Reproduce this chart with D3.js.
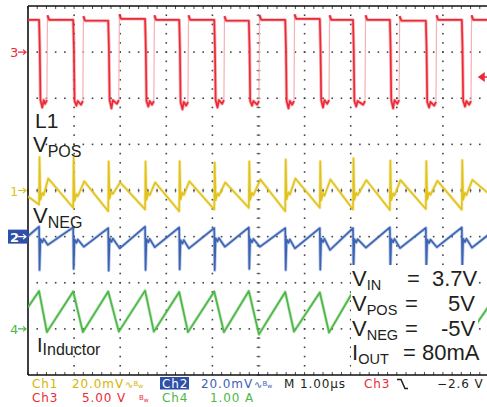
<!DOCTYPE html>
<html><head><meta charset="utf-8">
<script src="https://cdn.jsdelivr.net/npm/d3@7"></script>
<style>body{margin:0;background:#fff}svg{display:block}</style>
</head><body>
<script>
// ---- data (time in µs, 1 µs/div) ----
const fallTimes = [0.24,0.98,1.74,2.54,3.28,4.04,4.79,5.58,6.33,7.05,7.85,8.63,9.41];
const riseTimes = [0.41,1.19,1.97,2.73,3.47,4.25,5.01,5.77,6.53,7.31,8.05,8.85,9.61];
// Ch3 (switch node, V): plateau before each fall (+ final), low level, low dip
const ch3High = [3.5,3.5,3.4,3.6,3.5,3.5,3.4,3.5,3.6,3.5,3.5,3.4,3.5,3.5];
const ch3Low  = [-5.2,-5.3,-5.2,-5.3,-5.4,-5.2,-5.3,-5.3,-5.2,-5.3,-5.2,-5.4,-5.3];
const ch3Dip  = [-6.0,-5.8,-6.1,-5.9,-6.2,-6.0,-5.8,-6.1,-6.0,-5.9,-6.1,-6.0,-5.9];
// Ch1 (VPOS ripple, mV)
const ch1Start = -2.6, ch1End = -1.5;
const ch1Trough = [-6.1,-7.5,-9.0,-8.2,-9.0,-8.2,-7.5,-9.0,-7.5,-8.2,-8.5,-8.0,-8.3];
const ch1Spike  = [14.5,14.3,12.6,12.6,12.7,12.1,12.6,13.4,12.7,14.0,13.0,12.8,13.2];
const ch1Dip    = [-4.0,-4.5,-3.5,-4.0,-3.9,-4.2,-4.0,-3.8,-4.3,-4.0,-4.2,-3.9,-4.0];
const ch1Peak   = [5.2,4.0,3.5,3.5,4.0,3.5,4.8,5.2,4.8,4.5,4.5,4.2,4.6];
// Ch2 (VNEG ripple, mV)
const ch2Start = 0.2, ch2End = 1.0;
const ch2High  = [4.3,4.0,3.7,4.3,4.0,3.7,4.0,3.7,3.7,3.7,4.0,3.8,4.0];
const ch2Spike = [-14.5,-14.0,-14.8,-14.5,-14.2,-14.6,-14.0,-14.5,-14.3,-14.8,-14.2,-14.5,-14.4];
const ch2Mid   = [-1.0,-1.2,-0.8,-1.0,-1.5,-0.6,-1.0,-1.2,-0.9,-1.1,-1.0,-1.3,-0.9];
const ch2Dip   = [-3.6,-4.4,-5.1,-4.6,-5.1,-4.4,-4.4,-5.1,-5.8,-4.8,-5.0,-4.6,-4.8];
// Ch4 (inductor current, A)
const ch4Start = 0.47, ch4End = 0.50;
const ch4Peak   = [0.82,0.81,0.81,0.83,0.80,0.81,0.82,0.80,0.79,0.81,0.80,0.80,0.81];
const ch4Trough = [-0.07,-0.07,-0.06,-0.06,-0.07,-0.07,-0.12,-0.06,-0.08,-0.10,-0.06,-0.07,-0.06];
// labels
const statusLine1 = ["Ch1","20.0mV","Ch2","20.0mV","M 1.00µs","Ch3","\u22122.6 V"];
const statusLine2 = ["Ch3","5.00 V","Ch4","1.00 A"];
const condLabels = [["V","IN","=","3.7V"],["V","POS","=","5V"],["V","NEG","=","-5V"],["I","OUT","=","80mA"]];

// ---- drawing ----
const W=487,H=407;
const svg=d3.select("body").append("svg").attr("width",W).attr("height",H);
const x=d3.scaleLinear().domain([0,10]).range([28,489]);
const yDiv=d3.scaleLinear().domain([-4,4]).range([375,6]);
const y3=d3.scaleLinear().domain([-35,5]).range([375,6]);
const y1=d3.scaleLinear().domain([-80,80]).range([375,6]);
const y2=d3.scaleLinear().domain([-60,100]).range([375,6]);
const y4=d3.scaleLinear().domain([-1,7]).range([375,6]);

const C={red:"#ec2a36",pink:"#f6b0b6",yel:"#e2c31c",blue:"#3b63b4",green:"#4db748",ink:"#231f20"};

svg.append("clipPath").attr("id","scr").append("rect")
  .attr("x",x(0)).attr("y",yDiv(4)).attr("width",W-x(0)).attr("height",yDiv(-4)-yDiv(4));

// graticule
const grid=svg.append("g");
const xm=d3.range(0,51).map(i=>i/5), ym=d3.range(0,41).map(i=>i/5-4);
for(let k=1;k<=9;k++) ym.forEach(m=>{ if(Math.abs(m)<3.99) grid.append("rect")
  .attr("x",x(k)-0.8).attr("y",yDiv(m)-0.8).attr("width",1.6).attr("height",1.6).attr("fill","#444");});
for(let j=-3;j<=3;j++) xm.forEach(m=>{ if(m>0.01&&x(m)<W) grid.append("rect")
  .attr("x",x(m)-0.8).attr("y",yDiv(j)-0.8).attr("width",1.6).attr("height",1.6).attr("fill","#444");});
// centre ticks
ym.forEach(m=>grid.append("line").attr("x1",x(5)-2).attr("x2",x(5)+2).attr("y1",yDiv(m)).attr("y2",yDiv(m)).attr("stroke","#555").attr("stroke-width",0.8));
xm.forEach(m=>{ if(x(m)<W) grid.append("line").attr("x1",x(m)).attr("x2",x(m)).attr("y1",yDiv(0)-2).attr("y2",yDiv(0)+2).attr("stroke","#555").attr("stroke-width",0.8);});
// border ticks
xm.forEach(m=>{ if(x(m)<W){
  grid.append("line").attr("x1",x(m)).attr("x2",x(m)).attr("y1",yDiv(4)).attr("y2",yDiv(4)+3).attr("stroke","#333").attr("stroke-width",0.9);
  grid.append("line").attr("x1",x(m)).attr("x2",x(m)).attr("y1",yDiv(-4)).attr("y2",yDiv(-4)-3).attr("stroke","#333").attr("stroke-width",0.9);}});
grid.append("path").attr("d",`M${x(0)},${yDiv(4)}H${W}M${x(0)},${yDiv(4)}V${yDiv(-4)}M${x(0)},${yDiv(-4)}H${W}`)
  .attr("stroke","#111").attr("stroke-width",1.6).attr("fill","none");

const traces=svg.append("g").attr("clip-path","url(#scr)");
function draw(pts,ys,color,w,op){
  const ln=d3.line().x(d=>x(d[0])).y(d=>ys(d[1]));
  traces.append("path").attr("d",ln(pts)).attr("fill","none").attr("stroke",color)
    .attr("stroke-width",w).attr("stroke-linejoin","round").attr("opacity",op||1);
}

// Ch4 green
{ const p=[[0,ch4Start]];
  fallTimes.forEach((tf,i)=>{p.push([tf,ch4Peak[i]],[riseTimes[i],ch4Trough[i]]);});
  p.push([10,ch4End]);
  draw(p,y4,C.green,3.2,0.35); draw(p,y4,C.green,1.7); }
// Ch2 blue
{ const p=[[0,ch2Start]];
  fallTimes.forEach((tf,i)=>{p.push([tf,ch2High[i]],[tf+0.01,ch2Spike[i]],[tf+0.03,ch2Mid[i]],[tf+0.07,ch2Mid[i]-1.5],[tf+0.1,ch2Mid[i]],[riseTimes[i]+0.02,ch2Dip[i]]);});
  p.push([10,ch2End]);
  draw(p,y2,C.blue,3.2,0.35); draw(p,y2,C.blue,1.6); }
// Ch1 yellow
{ const p=[[0,ch1Start]];
  fallTimes.forEach((tf,i)=>{p.push([tf,ch1Trough[i]],[tf+0.01,ch1Spike[i]],[tf+0.03,ch1Dip[i]],[tf+0.07,ch1Dip[i]+3],[tf+0.1,ch1Dip[i]+2],[riseTimes[i]+0.03,ch1Peak[i]]);});
  p.push([10,ch1End]);
  draw(p,y1,C.yel,3.2,0.35); draw(p,y1,C.yel,1.6); }
// Ch3 red
{ let cur=[[0,ch3High[0]]]; const segs=[], rises=[];
  fallTimes.forEach((tf,i)=>{
    const hi=ch3High[i], lo=ch3Low[i], dp=ch3Dip[i], tr=riseTimes[i], nh=ch3High[i+1];
    cur.push([tf,hi],[tf+0.015,0.5],[tf+0.03,lo],[tf+0.07,dp],[tf+0.1,lo],[tr-0.04,lo-0.4],[tr,lo]);
    segs.push(cur);
    rises.push([[tr,lo],[tr+0.012,nh+0.5]]);
    cur=[[tr+0.012,nh+0.5],[tr+0.05,nh]];
  });
  cur.push([10,ch3High[ch3High.length-1]]); segs.push(cur);
  rises.forEach(r=>draw(r,y3,C.pink,1.2));
  segs.forEach(s=>{draw(s,y3,C.red,3.4,0.35); draw(s,y3,C.red,1.7);}); }

// channel markers
function marker(lbl,yv,color,boxed){
  const g=svg.append("g").attr("transform",`translate(0,${yDiv(yv)})`);
  if(boxed) g.append("rect").attr("x",8).attr("y",-7).attr("width",20).attr("height",14).attr("fill",color);
  const c=boxed?"#fff":color;
  g.append("text").attr("x",10).attr("y",5).attr("font-family","DejaVu Sans").attr("font-size",13).attr("font-weight",boxed?"bold":"normal").attr("fill",c).text(lbl);
  g.append("path").attr("d","M18,0H26M23,-2.5L26,0L23,2.5").attr("stroke",c).attr("stroke-width",1.2).attr("fill","none");
}
marker("3",3,C.red); marker("1",0,C.yel); marker("2",-1,"#2e50a6",true); marker("4",-3,C.green);
// trigger level arrow (right)
svg.append("path").attr("d","M479,77L484,73.5L484,80.5Z M484,77H487").attr("fill",C.red).attr("stroke",C.red).attr("stroke-width",1.5);

// waveform labels
const F="Liberation Sans, Arial, sans-serif";
function lab(xp,yp,main,sub,fs,sfs,dy){
  const t=svg.append("text").attr("x",xp).attr("y",yp).attr("font-family",F).attr("fill",C.ink).attr("font-size",fs);
  t.append("tspan").text(main);
  if(sub) t.append("tspan").attr("font-size",sfs).attr("dy",dy).text(sub);
}
lab(35,128,"L1",null,21);
lab(33,152,"V","POS",22,16,5);
lab(33,223,"V","NEG",22,16,5);
lab(37,352,"I","Inductor",20,16,3);

// condition box
svg.append("rect").attr("x",351).attr("y",265).attr("width",127).attr("height",105).attr("fill","#fff");
const rowsY=[286,311,336,360], eqX=[407,405,405,403], valX=[432,448,441,422];
condLabels.forEach((r,i)=>{
  lab(352,rowsY[i],r[0],r[1],22,14.5,4);
  svg.append("text").attr("x",eqX[i]).attr("y",rowsY[i]).attr("font-family",F).attr("font-size",22).attr("fill",C.ink).text(r[2]);
  svg.append("text").attr("x",valX[i]).attr("y",rowsY[i]).attr("font-family",F).attr("font-size",22).attr("fill",C.ink).text(r[3]);
});

// status lines
const SF="DejaVu Sans, sans-serif";
function st(xp,yp,txt,color,fs){
  return svg.append("text").attr("x",xp).attr("y",yp).attr("font-family",SF).attr("font-size",fs||12).attr("letter-spacing",0.9).attr("fill",color).text(txt);
}
function bw(xp,yp,color,wave){
  const t=svg.append("text").attr("x",xp).attr("y",yp).attr("font-family",SF).attr("fill",color);
  if(wave) t.append("tspan").attr("font-size",10).text("\u223F");
  t.append("tspan").attr("font-size",7).attr("dy",-2).text("B");
  t.append("tspan").attr("font-size",6).attr("dy",2).text("w");
}
st(32,388,statusLine1[0],"#d6b400");
st(72,388,statusLine1[1],"#d6b400"); bw(125,388,"#d6b400",true);
svg.append("rect").attr("x",160).attr("y",377).attr("width",29).attr("height",12.5).attr("fill","#2e50a6");
st(162,388,statusLine1[2],"#fff");
st(201,388,statusLine1[3],C.blue); bw(254,388,C.blue,true);
st(284,388,statusLine1[4],C.ink);
st(364,388,statusLine1[5],C.red);
svg.append("path").attr("d","M397,379.5H401L405,388.5H408").attr("stroke",C.ink).attr("stroke-width",1.5).attr("fill","none");
st(437,388,statusLine1[6],C.ink);
st(32,402,statusLine2[0],C.red);
st(82,402,statusLine2[1],C.red); bw(139,402,C.red,false);
st(162,402,statusLine2[2],C.green);
st(210,402,statusLine2[3],C.green);
</script>
</body></html>
